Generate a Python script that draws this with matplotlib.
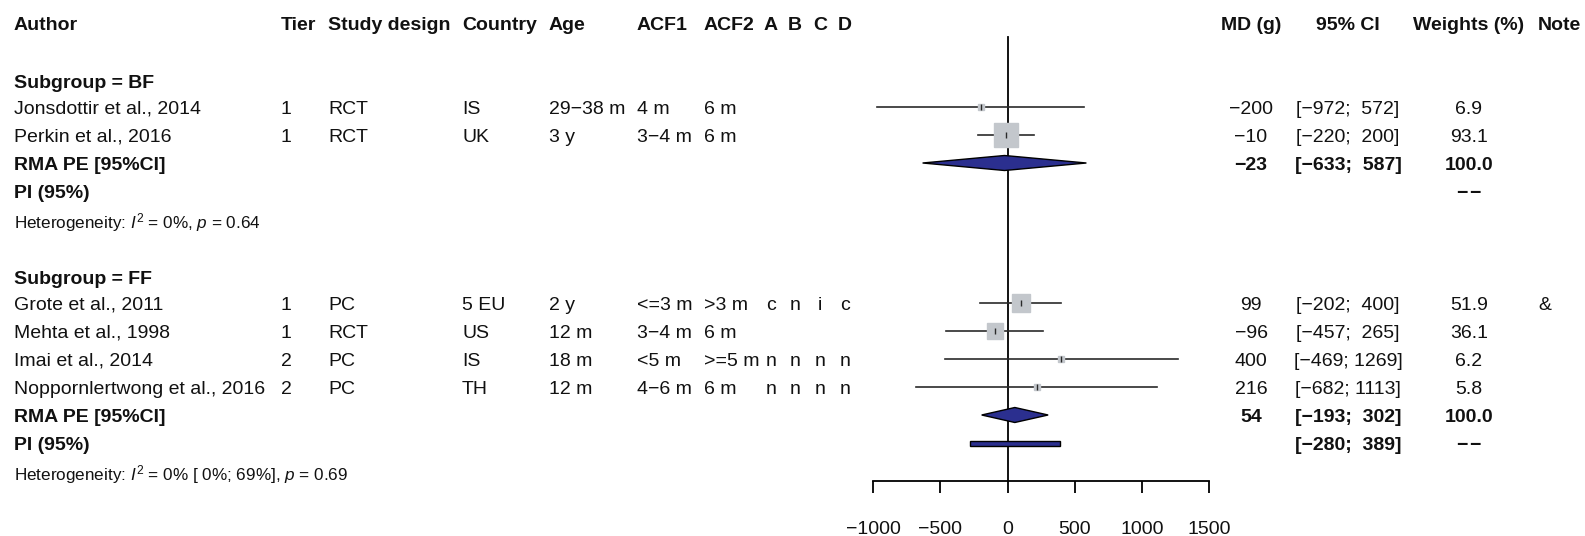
import matplotlib
matplotlib.use("Agg")
import matplotlib.pyplot as plt
import numpy as np

plt.rcParams["font.family"] = ["Liberation Sans", "DejaVu Sans"]
plt.rcParams["mathtext.fontset"] = "custom"
plt.rcParams["mathtext.rm"] = "Liberation Sans"
plt.rcParams["mathtext.it"] = "Liberation Sans:italic"

# study level data
authors = ["Jonsdottir et al., 2014", "Perkin et al., 2016",
           "Grote et al., 2011", "Mehta et al., 1998",
           "Imai et al., 2014", "Noppornlertwong et al., 2016"]
subgroup = ["BF", "BF", "FF", "FF", "FF", "FF"]
tier = ["1", "1", "1", "1", "2", "2"]
design = ["RCT", "RCT", "PC", "RCT", "PC", "PC"]
country = ["IS", "UK", "5 EU", "US", "IS", "TH"]
age = ["29−38 m", "3 y", "2 y", "12 m", "18 m", "12 m"]
acf1 = ["4 m", "3−4 m", "<=3 m", "3−4 m", "<5 m", "4−6 m"]
acf2 = ["6 m", "6 m", ">3 m", "6 m", ">=5 m", "6 m"]
rob_a = ["", "", "c", "", "n", "n"]
rob_b = ["", "", "n", "", "n", "n"]
rob_c = ["", "", "i", "", "n", "n"]
rob_d = ["", "", "c", "", "n", "n"]
md = [-200, -10, 99, -96, 400, 216]
ci_lo = [-972, -220, -202, -457, -469, -682]
ci_hi = [572, 200, 400, 265, 1269, 1113]
weights = [6.9, 93.1, 51.9, 36.1, 6.2, 5.8]
notes = ["", "", "&", "", "", ""]

# subgroup summaries
groups = ["BF", "FF"]
pooled = [-23, 54]
pooled_lo = [-633, -193]
pooled_hi = [587, 302]
pi_lo = [None, -280]
pi_hi = [None, 389]
het_text = [r"Heterogeneity: $\mathit{I}^2$ = 0%, $\mathit{p}$ = 0.64",
            r"Heterogeneity: $\mathit{I}^2$ = 0% [ 0%; 69%], $\mathit{p}$ = 0.69"]

xticks = [-1000, -500, 0, 500, 1000, 1500]

W, H = 1585, 536
fig = plt.figure(figsize=(W / 100, H / 100), dpi=100)
ax_t = fig.add_axes([0, 0, 1, 1])
ax_t.set_xlim(0, W)
ax_t.set_ylim(H, 0)
ax_t.axis("off")

x0, x1 = 873.3, 1209.0
ax = fig.add_axes([x0 / W, 0, (x1 - x0) / W, 1])
ax.set_xlim(-1000, 1500)
ax.set_ylim(H, 0)
ax.patch.set_visible(False)

def row(i):
    return 107 + 28.0 * i

txt = "#111111"
fs = 14
navy = "#2b2f8f"
sq = "#c3c7cc"
VA = "center_baseline"

left_cols = [14, 281, 328, 462, 549, 637, 704]
abcd_x = [771, 795, 820, 845]
headers = ["Author", "Tier", "Study design", "Country", "Age", "ACF1", "ACF2"]
for x, h in zip(left_cols, headers):
    ax_t.text(x, row(-3), h, fontsize=fs, fontweight="bold", va=VA, color=txt)
for x, h in zip(abcd_x, ["A", "B", "C", "D"]):
    ax_t.text(x, row(-3), h, fontsize=fs, fontweight="bold", va=VA, ha="center", color=txt)
x_md, x_ci, x_w, x_note = 1251, 1348, 1469, 1538
ax_t.text(x_md, row(-3), "MD (g)", fontsize=fs, fontweight="bold", va=VA, ha="center", color=txt)
ax_t.text(x_ci, row(-3), "95% CI", fontsize=fs, fontweight="bold", va=VA, ha="center", color=txt)
ax_t.text(x_w, row(-3), "Weights (%)", fontsize=fs, fontweight="bold", va=VA, ha="center", color=txt)
ax_t.text(x_note, row(-3), "Note", fontsize=fs, fontweight="bold", va=VA, ha="left", color=txt)

def fmt_ci(lo, hi):
    return f"[{lo:4d}; {hi:4d}]".replace("-", "−")

def fmt_num(v):
    return f"{v}".replace("-", "−")

start = {"BF": 0, "FF": 7}
for g, grp in enumerate(groups):
    r0 = start[grp]
    ax_t.text(14, row(r0 - 1) + 3, f"Subgroup = {grp}", fontsize=fs, fontweight="bold",
              va=VA, color=txt)
    idx = [k for k, s in enumerate(subgroup) if s == grp]
    for j, k in enumerate(idx):
        y = row(r0 + j)
        vals = [authors[k], tier[k], design[k], country[k], age[k], acf1[k], acf2[k]]
        for x, v in zip(left_cols, vals):
            ax_t.text(x, y, v, fontsize=fs, va=VA, color=txt)
        for x, v in zip(abcd_x, [rob_a[k], rob_b[k], rob_c[k], rob_d[k]]):
            ax_t.text(x, y, v, fontsize=fs, va=VA, ha="center", color=txt)
        ax_t.text(x_md, y, fmt_num(md[k]), fontsize=fs, va=VA, ha="center", color=txt)
        ax_t.text(x_ci, y, fmt_ci(ci_lo[k], ci_hi[k]), fontsize=fs, va=VA, ha="center", color=txt)
        ax_t.text(x_w, y, f"{weights[k]:.1f}", fontsize=fs, va=VA, ha="center", color=txt)
        ax_t.text(x_note, y, notes[k], fontsize=fs, va=VA, ha="left", color=txt)

        # study CI and square (side grows with sqrt of weight)
        ax.plot([ci_lo[k], ci_hi[k]], [y, y], color="#2a2a2a", lw=1.2, zorder=2,
                clip_on=False)
        side = 2.5 * np.sqrt(weights[k]) * 0.72
        ax.plot(md[k], y, marker="s", ms=side, color=sq, mec=sq, zorder=3,
                clip_on=False)
        ax.plot(md[k], y, marker="|", ms=5, color="#2a2a2a", mew=1.0, zorder=4)

    # pooled estimate
    n = len(idx)
    y = row(r0 + n)
    ax_t.text(14, y, "RMA PE [95%CI]", fontsize=fs, fontweight="bold", va=VA, color=txt)
    ax_t.text(x_md, y, fmt_num(pooled[g]), fontsize=fs, fontweight="bold", va=VA, ha="center", color=txt)
    ax_t.text(x_ci, y, fmt_ci(pooled_lo[g], pooled_hi[g]), fontsize=fs, fontweight="bold",
              va=VA, ha="center", color=txt)
    ax_t.text(x_w, y, "100.0", fontsize=fs, fontweight="bold", va=VA, ha="center", color=txt)
    hh = 7.5
    ax.fill([pooled_lo[g], pooled[g], pooled_hi[g], pooled[g]],
            [y, y - hh, y, y + hh], facecolor=navy, edgecolor="black", lw=1.0, zorder=5)

    # prediction interval
    y = row(r0 + n + 1)
    ax_t.text(14, y, "PI (95%)", fontsize=fs, fontweight="bold", va=VA, color=txt)
    ax_t.text(x_w, y, "−\u200a−", fontsize=fs, fontweight="bold", va=VA, ha="center",
              color=txt, family=["Liberation Sans", "DejaVu Sans"])
    if pi_lo[g] is not None:
        ax_t.text(x_ci, y, fmt_ci(pi_lo[g], pi_hi[g]), fontsize=fs, fontweight="bold",
                  va=VA, ha="center", color=txt)
        ax.fill([pi_lo[g], pi_hi[g], pi_hi[g], pi_lo[g]],
                [y - 2.5, y - 2.5, y + 2.5, y + 2.5], facecolor=navy, edgecolor="black",
                lw=1.0, zorder=5)

    y = row(r0 + n + 2)
    ax_t.text(14, y + 1, het_text[g], fontsize=12.3, va=VA, color=txt)

# reference line and axis
ax.plot([0, 0], [37, 481], color="black", lw=1.3, zorder=1)
for s in ["top", "left", "right"]:
    ax.spines[s].set_visible(False)
ax.spines["bottom"].set_position(("data", 481))
ax.spines["bottom"].set_bounds(-1000, 1500)
ax.spines["bottom"].set_linewidth(1.3)
ax.set_xticks(xticks)
ax.set_xticklabels([fmt_num(t) for t in xticks], fontsize=14, color=txt)
ax.tick_params(axis="x", direction="out", length=8.6, width=1.3, pad=20)
ax.set_yticks([])

fig.savefig("out.png", dpi=100)
